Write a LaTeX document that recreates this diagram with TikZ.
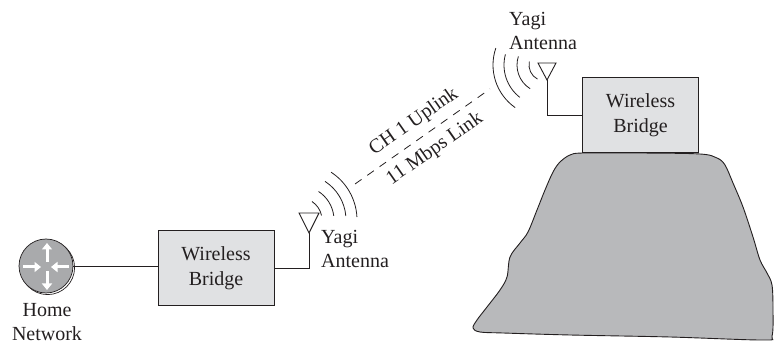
\documentclass[tikz,border=0pt]{standalone}
\usepackage{fontspec}
\setmainfont{Liberation Serif}
\usetikzlibrary{arrows.meta}
\definecolor{ink}{HTML}{231F20}
\definecolor{boxfill}{HTML}{E0E1E3}
\definecolor{rock}{HTML}{B8B9BB}
\definecolor{routerfill}{HTML}{A9AAAC}
\begin{document}
\begin{tikzpicture}[x=1pt,y=1pt,
  every node/.style={text=ink},
  wire/.style={draw=ink, line width=0.9pt},
  bridgebox/.style={draw=ink, line width=0.9pt, fill=boxfill,
    minimum width=116pt, minimum height=75pt, align=center,
    font=\fontsize{20}{25}\selectfont, inner sep=0pt},
  txt/.style={font=\fontsize{20}{24}\selectfont, inner sep=0pt},
  wave/.style={draw=ink, line width=0.8pt},
  antenna/.style={draw=ink, line width=0.9pt, line join=miter},
  routerarrow/.style={white, line width=3pt, -{Triangle[length=6.5pt,width=10pt]}},
  link/.style={draw=ink, line width=0.8pt, dash pattern=on 8pt off 7pt},
]
\useasboundingbox (0,0) rectangle (774,-344);

% mountain under the remote bridge
\filldraw[fill=rock, draw=ink, line width=0.9pt]
  plot[smooth cycle, tension=0.55] coordinates {
  (560,-162) (570,-155) (583,-153) (640,-153) (700,-154) (717,-158)
  (725,-165) (733,-183) (743,-207) (753,-237) (760,-260) (767,-273)
  (772,-285) (773,-310) (772,-336) (763,-340) (670,-337) (570,-335)
  (503,-333) (480,-332) (473,-328) (477,-320) (487,-307) (500,-290)
  (507,-277) (510,-257) (520,-243) (528,-232) (537,-210) (545,-190)
  (553,-172)};

% home network router
\draw[ink, line width=0.7pt] (47.6,-267.6) circle (27);
\node[circle, draw=ink, fill=routerfill, minimum size=54pt, inner sep=0pt,
  line width=0.7pt] (router) at (46,-266) {};
\begin{scope}[shift={(router.center)}]
  \draw[routerarrow] (-23,-1) -- (-5,-1);
  \draw[routerarrow] (23,-1) -- (5,-1);
  \draw[routerarrow] (1,4) -- (1,23);
  \draw[routerarrow] (1,-5) -- (1,-24);
\end{scope}
\node[txt, align=center, anchor=north] (home) at (47,-303) {Home\\Network};

% local bridge and antenna
\node[bridgebox] (bridgeL) at (216,-268) {Wireless\\Bridge};
\draw[wire] (router.east) -- (router.east -| bridgeL.west);
\coordinate (antLtip) at (309,-233);
\draw[antenna] (antLtip) -- ++(-10,20) -- ++(20,0) -- cycle;
\draw[wire] (bridgeL.east) -| (antLtip);
\node[txt, align=left, anchor=west] (yagiL) at (321,-249) {Yagi\\Antenna};
\foreach \r/\a in {22/12, 34/7, 46/5, 57/3}
  \draw[wave] (300,-220) ++(\a:\r) arc[start angle=\a, end angle=57, radius=\r];

% remote bridge and antenna
\node[bridgebox] (bridgeR) at (640.5,-115) {Wireless\\Bridge};
\coordinate (antRtip) at (547,-80);
\draw[antenna] (antRtip) -- ++(-9,17) -- ++(18,0) -- cycle;
\draw[wire] (antRtip) |- (bridgeR.west);
\node[txt, align=left, anchor=west] (yagiR) at (509,-31) {Yagi\\Antenna};
\foreach \r/\a/\b in {16/168/242, 28/162/238, 41/165/232, 52/161/235}
  \draw[wave] (545,-65) ++(\a:\r) arc[start angle=\a, end angle=\b, radius=\r];

% radio link
\coordinate (linkA) at (355,-184);
\coordinate (linkB) at (490,-89);
\draw[link] (linkA) -- (linkB);
\node[txt, rotate=35] (uplink) at (414,-122) {CH 1 Uplink};
\node[txt, rotate=35] (rate) at (435,-149) {11 Mbps Link};
\end{tikzpicture}
\end{document}
